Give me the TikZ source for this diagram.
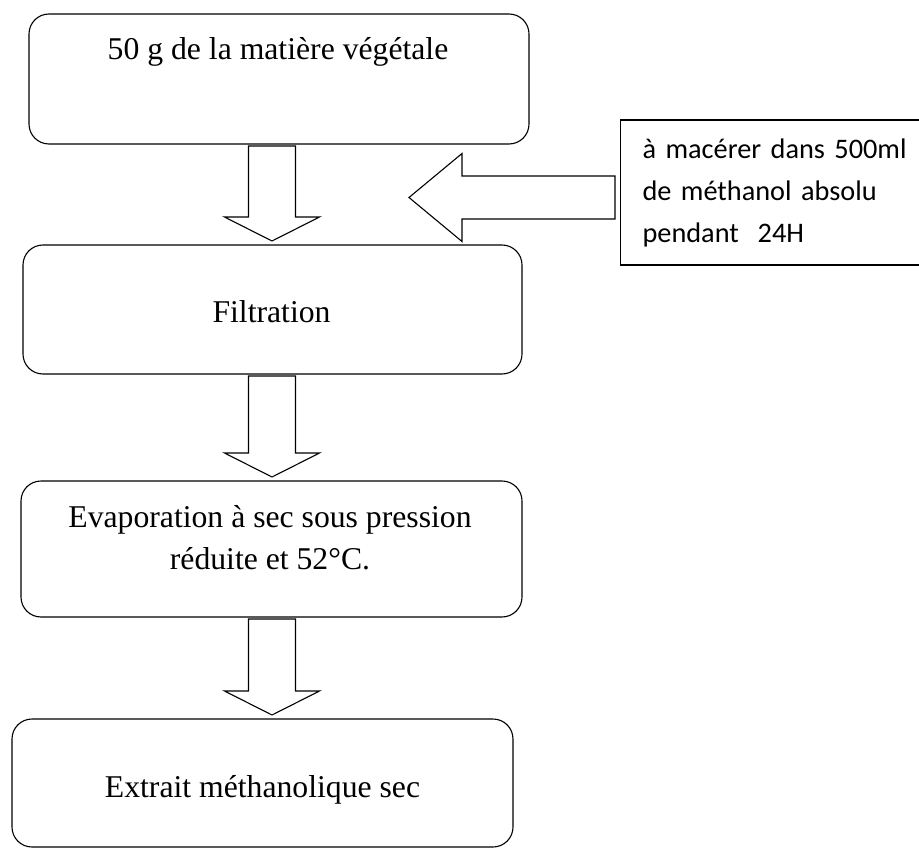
\documentclass[tikz,border=0pt]{standalone}
\usepackage{fontspec}
\setmainfont{Liberation Serif}
\newfontfamily\calibri{Carlito}
\usetikzlibrary{calc}

\tikzset{
  etape/.style={draw, rounded corners=20pt, line width=1.1pt, inner sep=0pt, outer sep=0pt},
  texte/.style={font=\fontsize{31.7}{42}\selectfont, inner sep=0pt},
  fleche/.style={draw, line width=1.1pt, line join=miter},
}

% grosse fleche creuse vers le bas, entre deux boites
\newcommand{\flechebas}[2]{%
  \draw[fleche] ($(axe |- #1.south)+(-23.5,2)$) -- ($(axe |- #1.south)+(23.5,2)$)
    -- ($(axe |- #2.north)+(23.5,-28)$) -- ($(axe |- #2.north)+(47.5,-28)$)
    -- ($(axe |- #2.north)+(0,-4)$) -- ($(axe |- #2.north)+(-47.5,-28)$)
    -- ($(axe |- #2.north)+(-23.5,-28)$) -- cycle;}

\begin{document}
\begin{tikzpicture}[x=1pt,y=-1pt]
\useasboundingbox (0,0) rectangle (919,848);
\coordinate (axe) at (272,0);
% boites
\node[etape, minimum width=500pt, minimum height=130pt] (b1) at (279,79) {};
\node[etape, minimum width=499pt, minimum height=129pt] (b2) at (272.5,309.5) {};
\node[etape, minimum width=501pt, minimum height=136pt] (b3) at (271.5,549) {};
\node[etape, minimum width=501pt, minimum height=128pt] (b4) at (262.5,783) {};
\node[texte, anchor=base] (t1) at (278,60) {50 g de la matière végétale};
\node[texte, anchor=base] (t2) at (271.5,322) {Filtration};
\node[texte, anchor=base, align=center] (t3) at (270,569) {Evaporation à sec sous pression\\réduite et 52°C.};
\node[texte, anchor=base] (t4) at (262.5,797) {Extrait méthanolique sec};
% fleches
\flechebas{b1}{b2}
\flechebas{b2}{b3}
\flechebas{b3}{b4}
% maceration
\node[draw, line width=1.1pt, anchor=west, minimum height=145pt, text width=320pt, inner xsep=22pt, align=left, font=\calibri\fontsize{28.3}{42}\selectfont] (mac) at (620,192.5) {à macérer dans 500ml\\de méthanol absolu\\pendant~~24H};
\coordinate (pointe) at (409,197.5);
\draw[fleche] (pointe) -- ++(53,-44) -- ++(0,22.5) -- ($(mac.west |- pointe)+(-5,-21.5)$)
  -- ($(mac.west |- pointe)+(-5,21.5)$) -- ($(pointe)+(53,21.5)$) -- ($(pointe)+(53,44)$) -- cycle;
\end{tikzpicture}
\end{document}
